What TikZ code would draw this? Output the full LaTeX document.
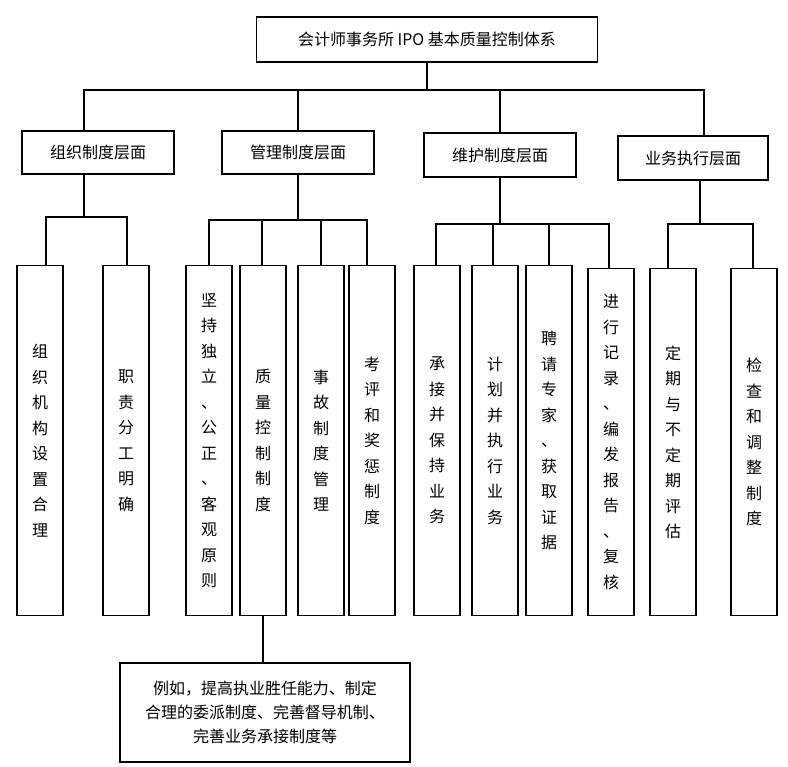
\documentclass[tikz,border=0pt]{standalone}
\usepackage{fontspec}
\setmainfont{Noto Sans CJK SC}
\begin{document}
\begin{tikzpicture}[x=1pt,y=-1pt,line width=1.3pt,
  bx/.style={draw,line width=1.3pt,font=\fontsize{16}{18}\selectfont,inner sep=0pt},
  col/.style={draw,line width=1.3pt,minimum width=46pt,minimum height=350pt,anchor=north,inner sep=0pt,align=center,font=\fontsize{16}{25.5}\selectfont}]
\useasboundingbox (0,0) rectangle (788,767);
\node[bx,minimum width=341pt,minimum height=45pt] (top) at (427,39.5) {会计师事务所 IPO 基本质量控制体系};
\node[bx,minimum width=152pt,minimum height=43pt] (a) at (98,152.5) {组织制度层面};
\node[bx,minimum width=152pt,minimum height=43pt] (b) at (298,152.5) {管理制度层面};
\node[bx,minimum width=152pt,minimum height=44pt] (c) at (500,155) {维护制度层面};
\node[bx,minimum width=150pt,minimum height=44pt] (d) at (693,158) {业务执行层面};
\coordinate (h) at (427,90);
\draw (top.south) -- (h);
\draw (84,131) |- (704,90) -- (704,136);
\draw (298,90) -- (298,131);
\draw (500,90) -- (500,133);
% columns
\node[col] (c1) at (40,265) {组\\织\\机\\构\\设\\置\\合\\理};
\node[col] (c2) at (126,265) {职\\责\\分\\工\\明\\确};
\node[col] (c3) at (209,265) {坚\\持\\独\\立\\、\\公\\正\\、\\客\\观\\原\\则};
\node[col] (c4) at (263,265) {质\\量\\控\\制\\制\\度};
\node[col] (c5) at (321,265) {事\\故\\制\\度\\管\\理};
\node[col] (c6) at (372,265) {考\\评\\和\\奖\\惩\\制\\度};
\node[col] (c7) at (437,265) {承\\接\\并\\保\\持\\业\\务};
\node[col] (c8) at (495,265) {计\\划\\并\\执\\行\\业\\务};
\node[col] (c9) at (549,265) {聘\\请\\专\\家\\、\\获\\取\\证\\据};
\node[col,minimum height=347pt] (c10) at (611,268) {进\\行\\记\\录\\、\\编\\发\\报\\告\\、\\复\\核};
\node[col,minimum height=347pt] (c11) at (673,268) {定\\期\\与\\不\\定\\期\\评\\估};
\node[col,minimum height=347pt] (c12) at (754,268) {检\\查\\和\\调\\整\\制\\度};
% connectors
\draw (a.south -| 84,0) -- (84,217);
\draw (46,265) |- (127,217) -- (127,265);
\draw (b.south) -- (298,220);
\draw (209,265) |- (367,220) -- (367,265);
\draw (262,220) -- (262,265);
\draw (321,220) -- (321,265);
\draw (c.south) -- (500,224);
\draw (436,265) |- (609,224) -- (609,268);
\draw (493,224) -- (493,265);
\draw (549,224) -- (549,265);
\draw (d.south -| 700,0) -- (700,224);
\draw (668,268) |- (753,224) -- (753,268);
\node[bx,minimum width=290pt,minimum height=99pt,align=center,font=\fontsize{16}{24}\selectfont] (e) at (265,712.5) {例如，提高执业胜任能力、制定\\合理的委派制度、完善督导机制、\\完善业务承接制度等};
\draw (c4.south) -- (e.north -| c4.south);
\end{tikzpicture}
\end{document}
